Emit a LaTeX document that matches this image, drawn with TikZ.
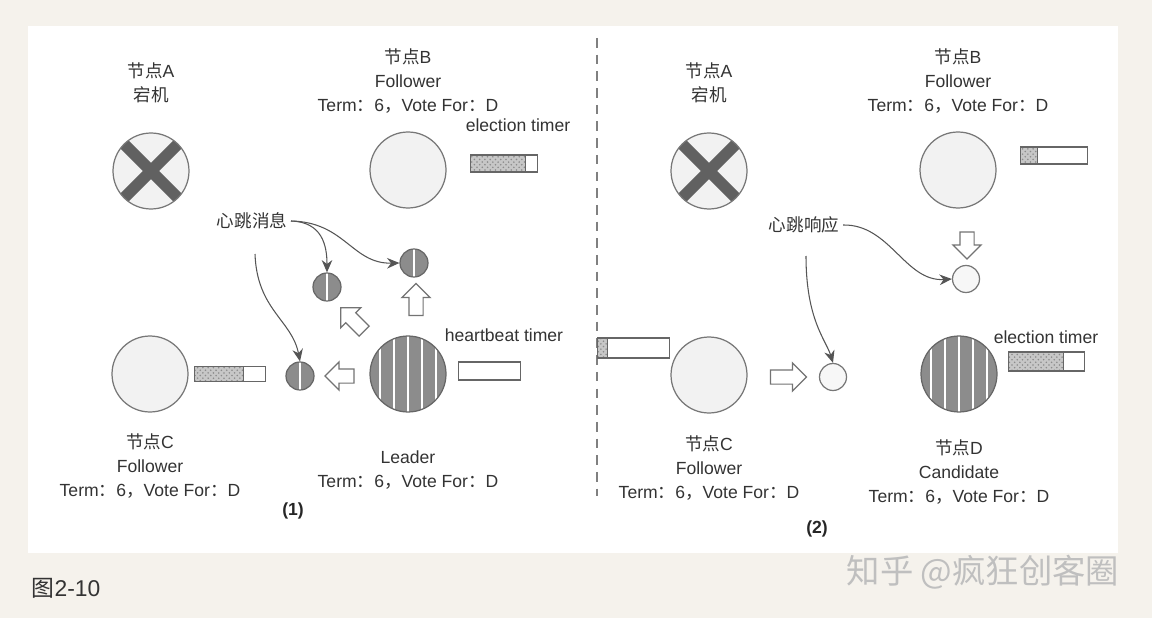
\documentclass[tikz,border=0pt]{standalone}
\usepackage{fontspec}
\setmainfont{Liberation Sans}
\newfontfamily\cjk{Noto Sans CJK SC}
\usepackage{tikz}
\usetikzlibrary{arrows.meta,positioning,shapes.arrows,patterns}

\definecolor{paper}{HTML}{F5F2EC}
\definecolor{inkgray}{HTML}{555555}
\definecolor{rimgray}{HTML}{777777}
\definecolor{stripegray}{HTML}{8C8C8C}
\newcommand{\cn}[1]{{\cjk #1}}

\begin{document}
\begin{tikzpicture}[x=0.02cm, y=-0.02cm,
  lbl/.style={align=center, text=black!80, font=\fontsize{10}{13.9}\selectfont, inner sep=0pt},
  idle/.style={circle, draw=rimgray, fill=black!5, line width=0.7pt, minimum size=1.52cm, inner sep=0pt},
  crashed/.style={idle, path picture={\draw[black!62, line width=6.5pt] (path picture bounding box.north west) -- (path picture bounding box.south east) (path picture bounding box.north east) -- (path picture bounding box.south west);}},
  striped/.style={circle, draw=black!60, fill=stripegray, line width=0.7pt, inner sep=0pt, path picture={\foreach \dx in {#1} \draw[white, line width=1.1pt] ([xshift=\dx]path picture bounding box.north) -- ([xshift=\dx]path picture bounding box.south);}},
  leadernode/.style={striped={-0.56cm,-0.28cm,0cm,0.28cm,0.56cm}, minimum size=1.52cm},
  hbeat/.style={striped={0cm}, minimum size=0.56cm},
  hbreply/.style={circle, draw=rimgray, fill=black!3, line width=0.7pt, minimum size=0.54cm, inner sep=0pt},
  timerbar/.style={rectangle, draw=black!60, fill=white, line width=0.7pt, minimum height=0.34cm, inner sep=0pt, path picture={\fill[preaction={fill=black!22}, pattern=crosshatch dots, pattern color=black!45] (path picture bounding box.south west) rectangle ([xshift=#1]path picture bounding box.north west); \draw[black!60, line width=0.7pt] ([xshift=#1]path picture bounding box.south west) -- ([xshift=#1]path picture bounding box.north west);}},
  blockarrow/.style={single arrow, draw=black!55, fill=white, line width=0.7pt, minimum width=0.54cm, minimum height=0.6cm, single arrow head extend=0.14cm, inner sep=0.13cm, shape border rotate=#1},
  msgarrow/.style={-{Stealth[length=7pt, width=6pt]}, draw=inkgray, line width=0.6pt}
]

% paper and panel
\fill[paper] (0,0) rectangle (1152,618);
\fill[white] (28,26) rectangle (1118,553);

% divider
\coordinate (divtop) at (597,38);
\coordinate (divbot) at (597,496);
\draw[black!50, line width=0.8pt, dash pattern=on 5.5pt off 4pt] (divtop) -- (divbot);

% ---- (1) left half ----
\node[crashed] (aL) at (151,171) {};
\node[idle] (bL) at (408,170) {};
\node[idle] (cL) at (150,374) {};
\node[leadernode] (dL) at (408,374) {};

\node[lbl] (aLtxt) at (151,83) {\cn{节点}A\\\cn{宕机}};
\node[lbl] (bLtxt) at (408,81) {\cn{节点}B\\Follower\\Term\cn{：}6\cn{，}Vote For\cn{：}D};
\node[lbl] (cLtxt) at (150,466) {\cn{节点}C\\Follower\\Term\cn{：}6\cn{，}Vote For\cn{：}D};
\node[lbl] (dLtxt) at (408,470) {Leader\\Term\cn{：}6\cn{，}Vote For\cn{：}D};

% timers
\node[timerbar=1.1cm, minimum width=1.34cm, right=0.46cm of bL, yshift=0.13cm] (tbL) {};
\node[lbl] (tbLtxt) at (518,125) {election timer};
\node[timerbar=0.98cm, minimum width=1.42cm, minimum height=0.3cm, right=0.1cm of cL] (tcL) {};
\node[timerbar=0cm, minimum width=1.24cm, minimum height=0.36cm, right=0.22cm of dL, yshift=0.06cm] (tdL) {};
\node[lbl] (tdLtxt) at (504,335) {heartbeat timer};

% heartbeats
\node[hbeat] (m1) at (327,287) {};
\node[hbeat] (m2) at (414,263) {};
\node[hbeat] (m3) at (300,376) {};
\node[blockarrow=90, minimum height=0.64cm] (upL) at (416,303) {};
\node[blockarrow=0, rotate=135, minimum height=0.66cm] (diagL) at (355,322) {};
\node[blockarrow=180, minimum height=0.58cm] (leftL) at (343,376) {};

\node[lbl] (hbmsg) at (252,221) {\cn{心跳消息}};
\coordinate (hbtail) at (255,254);
\draw[msgarrow] ([xshift=2pt]hbmsg.east) .. controls (322,222) and (327,245) .. (m1.north);
\draw[msgarrow] ([xshift=2pt]hbmsg.east) .. controls (345,222) and (352,264) .. (m2.west);
\draw[msgarrow] (hbtail) .. controls (257,310) and (292,320) .. (m3.north);

\node[font=\fontsize{10}{12}\selectfont\bfseries, text=black!85] (capL) at (293,511) {(1)};

% ---- (2) right half ----
\node[crashed] (aR) at (709,171) {};
\node[idle] (bR) at (958,170) {};
\node[idle] (cR) at (709,375) {};
\node[leadernode] (dR) at (959,374) {};

\node[lbl] (aRtxt) at (709,83) {\cn{节点}A\\\cn{宕机}};
\node[lbl] (bRtxt) at (958,81) {\cn{节点}B\\Follower\\Term\cn{：}6\cn{，}Vote For\cn{：}D};
\node[lbl] (cRtxt) at (709,468) {\cn{节点}C\\Follower\\Term\cn{：}6\cn{，}Vote For\cn{：}D};
\node[lbl] (dRtxt) at (959,472) {\cn{节点}D\\Candidate\\Term\cn{：}6\cn{，}Vote For\cn{：}D};

% timers
\node[timerbar=0.34cm, minimum width=1.34cm, right=0.47cm of bR, yshift=0.29cm] (tbR) {};
\node[timerbar=0.2cm, minimum width=1.44cm, minimum height=0.4cm, left=0cm of cR, yshift=0.54cm] (tcR) {};
\node[timerbar=1.1cm, minimum width=1.52cm, minimum height=0.38cm, right=0.2cm of dR, yshift=0.25cm] (tdR) {};
\node[lbl] (tdRtxt) at (1046,337) {election timer};

% replies
\node[hbreply] (r1) at (966,279) {};
\node[hbreply] (r2) at (833,377) {};
\node[blockarrow=270, minimum height=0.54cm] (downR) at (967,242) {};
\node[blockarrow=0, minimum height=0.72cm] (rightR) at (785,377) {};

\node[lbl] (hbresp) at (804,225) {\cn{心跳响应}};
\coordinate (resptail) at (806,256);
\draw[msgarrow] ([xshift=2pt]hbresp.east) .. controls (890,224) and (905,282) .. (r1.west);
\draw[msgarrow] (resptail) .. controls (806,320) and (826,340) .. (r2.north);

\node[font=\fontsize{10}{12}\selectfont\bfseries, text=black!85] (capR) at (817,529) {(2)};

% caption and mark
\node[font=\fontsize{13}{15}\selectfont, text=black!80] (fig) at (66,588) {\cn{图}2-10};
\node[font=\fontsize{19}{22}\selectfont\cjk, text=black!25] (mark) at (983,572) {知乎 @疯狂创客圈};

\end{tikzpicture}
\end{document}
